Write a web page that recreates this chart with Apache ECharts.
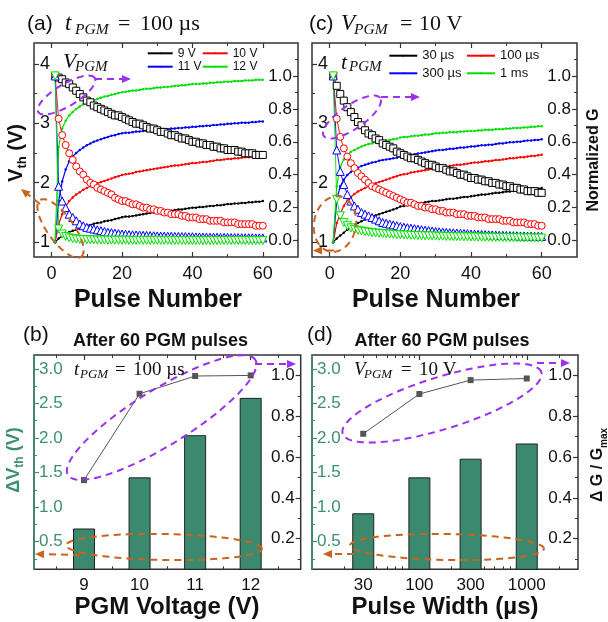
<!DOCTYPE html>
<html><head><meta charset="utf-8">
<script src="https://cdn.jsdelivr.net/npm/echarts@6/dist/echarts.min.js"></script>
<style>html,body{margin:0;padding:0;background:#fff}#c{width:608px;height:622px}</style>
</head><body><div id="c"></div><script>
// ---------- DATA ----------
const pulse = [1,2,3,4,5,6,7,8,9,10,11,12,13,14,15,16,17,18,19,20,21,22,23,24,25,26,27,28,29,30,
31,32,33,34,35,36,37,38,39,40,41,42,43,44,45,46,47,48,49,50,51,52,53,54,55,56,57,58,59,60];

// Panel (a): t_PGM = 100 us, Vth (V) vs pulse
const vthA9 = [1.00,1.06,1.10,1.14,1.17,1.19,1.21,1.23,1.26,1.28,1.29,1.31,1.32,1.33,1.35,1.36,1.37,1.39,1.40,1.42,
1.43,1.43,1.44,1.45,1.46,1.47,1.48,1.49,1.50,1.51,1.51,1.52,1.53,1.53,1.54,1.55,1.55,1.56,1.57,1.58,
1.58,1.59,1.59,1.60,1.61,1.61,1.62,1.62,1.63,1.64,1.64,1.65,1.65,1.66,1.66,1.67,1.67,1.68,1.68,1.69];
const vthA10 = [1.00,1.30,1.47,1.60,1.69,1.75,1.80,1.84,1.88,1.91,1.94,1.96,1.99,2.01,2.03,2.05,2.07,2.09,2.11,2.13,
2.14,2.15,2.16,2.18,2.19,2.20,2.21,2.22,2.23,2.24,2.25,2.26,2.27,2.28,2.29,2.29,2.30,2.31,2.32,2.33,
2.33,2.34,2.35,2.35,2.36,2.37,2.38,2.38,2.39,2.40,2.40,2.41,2.41,2.42,2.43,2.43,2.44,2.44,2.45,2.46];
const vthA11 = [1.00,1.69,2.02,2.22,2.36,2.44,2.50,2.55,2.59,2.63,2.66,2.69,2.71,2.73,2.75,2.77,2.79,2.80,2.82,2.83,
2.84,2.84,2.85,2.86,2.86,2.87,2.87,2.88,2.88,2.89,2.89,2.90,2.90,2.91,2.91,2.92,2.92,2.93,2.93,2.94,
2.94,2.95,2.95,2.96,2.96,2.97,2.97,2.98,2.98,2.99,2.99,3.00,3.00,3.01,3.01,3.01,3.02,3.02,3.03,3.03];
const vthA12 = [1.00,2.60,2.91,3.04,3.13,3.19,3.24,3.28,3.32,3.35,3.37,3.39,3.41,3.43,3.45,3.46,3.48,3.49,3.51,3.52,
3.53,3.54,3.55,3.55,3.56,3.57,3.58,3.58,3.59,3.60,3.60,3.61,3.61,3.62,3.63,3.63,3.64,3.64,3.65,3.66,
3.66,3.66,3.67,3.67,3.68,3.68,3.69,3.69,3.70,3.70,3.70,3.71,3.71,3.71,3.72,3.72,3.72,3.73,3.73,3.73];
// Panel (a): normalized G
const gA9 = [1.00,0.99,0.98,0.96,0.95,0.93,0.91,0.89,0.87,0.85,0.84,0.82,0.81,0.80,0.79,0.78,0.77,0.76,0.76,0.75,
0.74,0.73,0.72,0.71,0.71,0.70,0.69,0.68,0.68,0.67,0.66,0.66,0.65,0.64,0.64,0.63,0.62,0.62,0.61,0.60,
0.60,0.59,0.59,0.58,0.58,0.57,0.57,0.56,0.56,0.55,0.55,0.55,0.54,0.54,0.53,0.53,0.53,0.52,0.52,0.52];
const gA10 = [1.00,0.74,0.64,0.58,0.53,0.49,0.45,0.42,0.40,0.37,0.35,0.34,0.32,0.31,0.30,0.29,0.28,0.26,0.25,0.24,
0.24,0.23,0.22,0.22,0.21,0.20,0.20,0.19,0.19,0.18,0.18,0.17,0.17,0.16,0.16,0.16,0.15,0.15,0.14,0.14,
0.14,0.13,0.13,0.13,0.12,0.12,0.12,0.12,0.11,0.11,0.11,0.11,0.10,0.10,0.10,0.10,0.10,0.09,0.09,0.09];
const gA11 = [1.00,0.33,0.24,0.20,0.16,0.14,0.12,0.10,0.09,0.08,0.075,0.070,0.065,0.060,0.055,0.050,0.048,0.045,0.042,0.040,
0.038,0.036,0.035,0.034,0.033,0.032,0.031,0.030,0.029,0.028,0.027,0.027,0.026,0.026,0.025,0.025,0.024,0.024,0.023,0.023,
0.022,0.022,0.021,0.021,0.020,0.020,0.020,0.019,0.019,0.019,0.018,0.018,0.018,0.017,0.017,0.017,0.017,0.016,0.016,0.016];
const gA12 = [1.00,0.070,0.040,0.025,0.016,0.012,0.009,0.007,0.006,0.005,0.004,0.004,0.003,0.003,0.003,0.002,0.002,0.002,0.002,0.002,
0.002,0.001,0.001,0.001,0.001,0.001,0.001,0.001,0.001,0.001,0.001,0.001,0.001,0.001,0.000,0.000,0.000,0.000,0.000,0.000,
0.000,0.000,0.000,0.000,0.000,0.000,0.000,0.000,0.000,0.000,0.000,0.000,0.000,0.000,0.000,0.000,0.000,0.000,0.000,0.000];

// Panel (c): V_PGM = 10 V
const vthC30 = [1.00,1.06,1.11,1.16,1.21,1.25,1.29,1.32,1.35,1.38,1.40,1.43,1.45,1.47,1.49,1.51,1.53,1.55,1.57,1.60,
1.61,1.62,1.63,1.64,1.65,1.66,1.67,1.68,1.69,1.69,1.70,1.71,1.72,1.73,1.73,1.74,1.75,1.76,1.76,1.77,
1.78,1.79,1.80,1.80,1.81,1.82,1.83,1.83,1.84,1.85,1.85,1.86,1.86,1.87,1.88,1.88,1.89,1.89,1.90,1.91];
const vthC100 = [1.00,1.32,1.48,1.61,1.70,1.76,1.81,1.85,1.88,1.91,1.94,1.96,1.99,2.01,2.03,2.05,2.07,2.09,2.11,2.13,
2.14,2.15,2.17,2.18,2.19,2.20,2.21,2.22,2.23,2.24,2.25,2.26,2.27,2.28,2.29,2.30,2.30,2.31,2.32,2.33,
2.34,2.34,2.35,2.36,2.36,2.37,2.38,2.38,2.39,2.40,2.41,2.41,2.42,2.43,2.43,2.44,2.45,2.45,2.46,2.47];
const vthC300 = [1.00,1.71,1.94,2.05,2.13,2.18,2.22,2.25,2.28,2.30,2.32,2.34,2.35,2.37,2.38,2.39,2.40,2.41,2.42,2.44,
2.45,2.46,2.47,2.48,2.49,2.50,2.51,2.52,2.53,2.54,2.55,2.55,2.56,2.57,2.57,2.58,2.59,2.59,2.60,2.61,
2.61,2.62,2.63,2.63,2.64,2.64,2.65,2.66,2.66,2.67,2.68,2.68,2.69,2.69,2.70,2.71,2.71,2.72,2.72,2.73];
const vthC1000 = [1.00,1.94,2.27,2.39,2.47,2.52,2.55,2.58,2.61,2.63,2.65,2.66,2.68,2.69,2.70,2.71,2.72,2.73,2.74,2.76,
2.77,2.77,2.78,2.79,2.79,2.80,2.81,2.81,2.82,2.83,2.83,2.84,2.84,2.85,2.85,2.85,2.86,2.86,2.87,2.87,
2.87,2.88,2.88,2.89,2.89,2.89,2.90,2.90,2.90,2.91,2.91,2.92,2.92,2.92,2.93,2.93,2.94,2.94,2.95,2.95];
const gC30 = [1.00,0.94,0.89,0.85,0.81,0.78,0.75,0.72,0.70,0.67,0.65,0.64,0.62,0.61,0.59,0.58,0.57,0.56,0.54,0.53,
0.52,0.51,0.50,0.50,0.49,0.48,0.47,0.46,0.46,0.45,0.44,0.44,0.43,0.42,0.42,0.41,0.40,0.40,0.39,0.38,
0.38,0.37,0.37,0.36,0.36,0.35,0.35,0.34,0.34,0.33,0.33,0.32,0.32,0.31,0.31,0.30,0.30,0.30,0.29,0.29];
const gC100 = [1.00,0.74,0.63,0.56,0.51,0.47,0.44,0.41,0.39,0.37,0.35,0.33,0.32,0.31,0.30,0.29,0.28,0.27,0.26,0.25,
0.24,0.23,0.23,0.22,0.21,0.21,0.20,0.20,0.19,0.19,0.18,0.18,0.17,0.17,0.17,0.16,0.16,0.16,0.15,0.15,
0.15,0.14,0.14,0.14,0.13,0.13,0.13,0.13,0.12,0.12,0.12,0.11,0.11,0.11,0.11,0.10,0.10,0.10,0.09,0.09];
const gC300 = [1.00,0.55,0.42,0.34,0.28,0.24,0.21,0.19,0.17,0.16,0.15,0.14,0.13,0.12,0.11,0.105,0.10,0.095,0.09,0.085,
0.081,0.078,0.075,0.072,0.069,0.066,0.063,0.061,0.058,0.055,0.053,0.051,0.050,0.048,0.047,0.046,0.044,0.043,0.042,0.040,
0.039,0.038,0.037,0.036,0.035,0.034,0.033,0.032,0.032,0.031,0.030,0.030,0.029,0.028,0.028,0.027,0.027,0.026,0.026,0.025];
const gC1000 = [1.00,0.25,0.15,0.11,0.09,0.077,0.068,0.062,0.058,0.054,0.051,0.048,0.046,0.044,0.042,0.041,0.039,0.038,0.036,0.035,
0.034,0.033,0.032,0.031,0.030,0.030,0.029,0.028,0.028,0.027,0.026,0.026,0.025,0.025,0.024,0.024,0.023,0.023,0.022,0.022,
0.021,0.021,0.020,0.020,0.020,0.019,0.019,0.019,0.018,0.018,0.018,0.017,0.017,0.017,0.016,0.016,0.016,0.015,0.015,0.015];

// Panel (b): after 60 pulses vs PGM voltage
const voltages = [9,10,11,12];
const dVthVolt = [0.69,1.43,2.04,2.58];
const dGVolt = [0.487,0.91,0.997,1.0];
// Panel (d): after 60 pulses vs pulse width (us)
const widths = [30,100,300,1000];
const dVthWidth = [0.91,1.43,1.70,1.92];
const dGWidth = [0.714,0.909,0.977,0.985];

// tick labels
const pulseTicks = [0,20,40,60], pulseMinor = [10,30,50];
const vthTicks = [1,2,3,4], vthMinor = [1.5,2.5,3.5];
const gTicks = [0,0.2,0.4,0.6,0.8,1.0], gMinor = [0.1,0.3,0.5,0.7,0.9,1.1];
const dVTicks = [0.5,1.0,1.5,2.0,2.5,3.0], dVMinor = [0.25,0.75,1.25,1.75,2.25,2.75];
const dGTicks = [0.2,0.4,0.6,0.8,1.0], dGMinor = [0.1,0.3,0.5,0.7,0.9];
const voltTicks = [9,10,11,12], voltMinor = [8.5,9.5,10.5,11.5,12.5];
const widthTicks = [30,100,300,1000], widthMajor = [100,1000];
const widthMinor = [20,30,40,50,60,70,80,90,200,300,400,500,600,700,800,900,2000];

// ---------- BUILD ----------
const FONT = '"Liberation Sans", Arial, sans-serif';
const SERIF = '"Liberation Serif", "Times New Roman", serif';
const AX = '#333', TEAL = '#3d8f72', PUR = '#9b30ef', ORA = '#c8641e';
const COL = {k:'#000000', r:'#ff0000', b:'#0000ff', g:'#00e000'};
const opt = {animation:false, backgroundColor:'#fff', grid:[], xAxis:[], yAxis:[], series:[], legend:[], graphic:[]};

function addGrid(l,t,r,b){
  opt.grid.push({left:l, top:t, width:r-l, height:b-t, show:true, borderColor:AX, borderWidth:1.5, backgroundColor:'rgba(0,0,0,0)'});
  return opt.grid.length-1;
}
function addAxis(dim, g, c){
  const arr = dim==='x'?opt.xAxis:opt.yAxis;
  const tc = c.tickColor||AX;
  const base = {gridIndex:g, type:c.type||'value', min:c.min, max:c.max, position:c.pos, splitLine:{show:false}, silent:true,
    axisLine:{show:!!c.lineColor, onZero:false, lineStyle:{color:c.lineColor||AX, width:1.5}}};
  if (c.type==='log') base.logBase = 10;
  arr.push(Object.assign({}, base, {
    axisTick:{show:true, inside:true, length:5, customValues:c.major, lineStyle:{color:tc, width:1.2}},
    axisLabel:{show:!!c.labels, customValues:c.labels||c.major, inside:!!c.inside, margin:c.margin==null?6:c.margin,
      fontSize:c.fs||17, fontFamily:FONT, color:c.labelColor||'#111', formatter:c.fmt||(v=>String(v))}
  }));
  const idx = arr.length-1;
  if (c.minor) arr.push(Object.assign({}, base, {axisLine:{show:false,onZero:false},
    axisTick:{show:true, inside:true, length:3, customValues:c.minor, lineStyle:{color:tc, width:1}}, axisLabel:{show:false}}));
  return idx;
}
function addLine(name, xi, yi, ys, color, sym, size, extra){
  opt.series.push(Object.assign({type:'line', name, xAxisIndex:xi, yAxisIndex:yi, data:pulse.map((x,i)=>[x,ys[i]]),
    symbol:sym, symbolSize:size, showSymbol:true, showAllSymbol:true, color,
    lineStyle:{color, width:1.2}, itemStyle:{color},
    emphasis:{disabled:true}, silent:true, z:3}, extra||{}));
}
// open (hollow) marker with thin outline
function openM(c, rot){
  return {symbolRotate:rot||0, lineStyle:{color:c,width:0.9}, itemStyle:{color:'#ffffff', borderColor:c, borderWidth:1}, z:4};
}
const f1 = v=>v.toFixed(1);

// Panel (a)
const gA = addGrid(34,43,298,257);
const xA = addAxis('x', gA, {pos:'bottom', min:-5, max:70, labels:pulseTicks, major:pulseTicks, minor:pulseMinor, fs:18, margin:8});
addAxis('x', gA, {pos:'top', min:-5, max:70, major:pulseTicks, minor:pulseMinor});
const yAL = addAxis('y', gA, {pos:'left', min:0.75, max:4.35, labels:vthTicks, major:vthTicks, minor:vthMinor, inside:true, fs:18});
const yAR = addAxis('y', gA, {pos:'right', min:-0.1, max:1.2, labels:gTicks, major:gTicks, minor:gMinor, inside:true, fmt:f1});
addLine('9 V', xA, yAL, vthA9, COL.k, 'circle', 2.5);
addLine('10 V', xA, yAL, vthA10, COL.r, 'circle', 2.5);
addLine('11 V', xA, yAL, vthA11, COL.b, 'circle', 2.5);
addLine('12 V', xA, yAL, vthA12, COL.g, 'circle', 2.5);
addLine('G 9 V', xA, yAR, gA9, COL.k, 'rect', 7, openM(COL.k));
addLine('G 10 V', xA, yAR, gA10, COL.r, 'circle', 7, openM(COL.r));
addLine('G 11 V', xA, yAR, gA11, COL.b, 'triangle', 8, openM(COL.b));
addLine('G 12 V', xA, yAR, gA12, COL.g, 'triangle', 8, openM(COL.g, 180));

// Panel (c)
const gCc = addGrid(312,43,577,257);
const xC = addAxis('x', gCc, {pos:'bottom', min:-5, max:70, labels:pulseTicks, major:pulseTicks, minor:pulseMinor, fs:18, margin:8});
addAxis('x', gCc, {pos:'top', min:-5, max:70, major:pulseTicks, minor:pulseMinor});
const yCL = addAxis('y', gCc, {pos:'left', min:0.75, max:4.35, labels:vthTicks, major:vthTicks, minor:vthMinor, inside:true, fs:18});
const yCR = addAxis('y', gCc, {pos:'right', min:-0.1, max:1.2, labels:gTicks, major:gTicks, minor:gMinor, inside:true, fmt:f1});
addLine('30 µs', xC, yCL, vthC30, COL.k, 'circle', 2.5);
addLine('100 µs', xC, yCL, vthC100, COL.r, 'circle', 2.5);
addLine('300 µs', xC, yCL, vthC300, COL.b, 'circle', 2.5);
addLine('1 ms', xC, yCL, vthC1000, COL.g, 'circle', 2.5);
addLine('G 30', xC, yCR, gC30, COL.k, 'rect', 7, openM(COL.k));
addLine('G 100', xC, yCR, gC100, COL.r, 'circle', 7, openM(COL.r));
addLine('G 300', xC, yCR, gC300, COL.b, 'triangle', 8, openM(COL.b));
addLine('G 1000', xC, yCR, gC1000, COL.g, 'triangle', 8, openM(COL.g, 180));

// Panel (b)
const gB = addGrid(34,355,300.7,569.3);
const xB = addAxis('x', gB, {pos:'bottom', min:8.1, max:12.9, labels:voltTicks, major:voltTicks, minor:voltMinor, fs:17, margin:8});
addAxis('x', gB, {pos:'top', min:8.1, max:12.9, major:voltTicks, minor:voltMinor});
const yBL = addAxis('y', gB, {pos:'left', min:0.1, max:3.2, labels:dVTicks, major:dVTicks, minor:dVMinor, inside:true, fmt:f1, lineColor:TEAL, tickColor:TEAL, labelColor:TEAL, fs:17, margin:5});
const yBR = addAxis('y', gB, {pos:'right', min:0.05, max:1.1, labels:dGTicks, major:dGTicks, minor:dGMinor, inside:true, fmt:f1});
// Panel (d)
const gD = addGrid(312,355,578,569.3);
const xD = addAxis('x', gD, {type:'log', pos:'bottom', min:10, max:3000, labels:widthTicks, major:widthMajor, minor:widthMinor, fs:17, margin:8});
addAxis('x', gD, {type:'log', pos:'top', min:10, max:3000, major:widthMajor, minor:widthMinor});
const yDL = addAxis('y', gD, {pos:'left', min:0.1, max:3.2, labels:dVTicks, major:dVTicks, minor:dVMinor, inside:true, fmt:f1, lineColor:TEAL, tickColor:TEAL, labelColor:TEAL, fs:17, margin:5});
const yDR = addAxis('y', gD, {pos:'right', min:0.05, max:1.1, labels:dGTicks, major:dGTicks, minor:dGMinor, inside:true, fmt:f1});

function addBars(name, xi, yi, xs, ys){
  opt.series.push({type:'bar', name, xAxisIndex:xi, yAxisIndex:yi, data:xs.map((x,i)=>[x,ys[i]]), barWidth:22,
    itemStyle:{color:'#3b8a6f', borderColor:'#222', borderWidth:1}, silent:true, z:2});
}
function addDG(name, xi, yi, xs, ys){
  opt.series.push({type:'line', name, xAxisIndex:xi, yAxisIndex:yi, data:xs.map((x,i)=>[x,ys[i]]), symbol:'rect', symbolSize:6,
    color:'#555', lineStyle:{color:'#555', width:1}, itemStyle:{color:'#555'}, silent:true, z:4});
}
addBars('dVth V', xB, yBL, voltages, dVthVolt);
addDG('dG V', xB, yBR, voltages, dGVolt);
addBars('dVth W', xD, yDL, widths, dVthWidth);
addDG('dG W', xD, yDR, widths, dGWidth);

// Legends
function leg(names, left, top, fs, lh, gap, iw){
  opt.legend.push({data:names, left, top, orient:'vertical', itemWidth:iw, itemHeight:2.5, itemGap:gap, padding:0,
    selectedMode:false, textStyle:{fontSize:fs, lineHeight:lh, fontFamily:FONT, color:'#111'}});
}
leg(['9 V','11 V'], 146.7, 46.8, 12, 13, 0.4, 25);
leg(['10 V','12 V'], 201.7, 46.8, 12, 13, 0.4, 25);
leg(['30 µs','300 µs'], 388.3, 48.7, 13, 14, 3.6, 28);
leg(['100 µs','1 ms'], 466, 48.7, 13, 14, 3.6, 28);

// Texts
function T(x, y, text, o){
  o = o||{};
  const st = {text, fill:o.color||'#111', fontSize:o.fs||17, fontFamily:o.ff||FONT, fontWeight:o.fw||'normal', fontStyle:o.it?'italic':'normal',
    align:o.align||'left', textAlign:o.align||'left', verticalAlign:'middle', textVerticalAlign:'middle'};
  if (o.rich) st.rich = o.rich;
  opt.graphic.push({type:'text', x, y, rotation:o.rot||0, silent:true, z:60, style:st});
}
T(27,24,'(a)',{fs:21});
T(65,24,'t',{ff:SERIF,it:true,fs:23}); T(75,30,'PGM',{ff:SERIF,it:true,fs:15.5});
T(118,24,'=',{ff:SERIF,fs:22}); T(140,24,'100 µs',{ff:SERIF,fs:22});
T(309,24,'(c)',{fs:21});
T(341,24,'V',{ff:SERIF,it:true,fs:23}); T(354,30,'PGM',{ff:SERIF,it:true,fs:15.5});
T(400,24,'=',{ff:SERIF,fs:22}); T(419,24,'10 V',{ff:SERIF,fs:22});
T(63,62,'V',{ff:SERIF,it:true,fs:22}); T(75,67,'PGM',{ff:SERIF,it:true,fs:15});
T(341,63,'t',{ff:SERIF,it:true,fs:22}); T(349,67,'PGM',{ff:SERIF,it:true,fs:15});
T(23,335,'(b)',{fs:21}); T(307,335,'(d)',{fs:21});
T(160.5,341,'After 60 PGM pulses',{fw:'bold',fs:18,align:'center'});
T(442,341,'After 60 PGM pulses',{fw:'bold',fs:18,align:'center'});
T(74,370,'t',{ff:SERIF,it:true,fs:19}); T(80,375,'PGM',{ff:SERIF,it:true,fs:13});
T(115,370,'=',{ff:SERIF,fs:19}); T(133,370,'100 µs',{ff:SERIF,fs:19});
T(354,370,'V',{ff:SERIF,it:true,fs:19}); T(364,375,'PGM',{ff:SERIF,it:true,fs:13});
T(401,370,'=',{ff:SERIF,fs:19}); T(419,370,'10 V',{ff:SERIF,fs:19});
T(158,300,'Pulse Number',{fw:'bold',fs:25,align:'center'});
T(436,300,'Pulse Number',{fw:'bold',fs:25,align:'center'});
T(167,607,'PGM Voltage (V)',{fw:'bold',fs:24,align:'center'});
T(445,607,'Pulse Width (µs)',{fw:'bold',fs:24,align:'center'});
function rich(fs, col){
  return {a:{fontSize:fs, fontWeight:'bold', fontFamily:FONT, color:col, lineHeight:fs+6, verticalAlign:'middle'},
          b:{fontSize:Math.round(fs*0.65), fontWeight:'bold', fontFamily:FONT, color:col, lineHeight:Math.round(fs*0.65), verticalAlign:'bottom'}};
}
T(16,153,'{a|V}{b|th}{a| (V)}',{rot:Math.PI/2, align:'center', rich:rich(20,'#111')});
T(594,160,'Normalized G',{rot:Math.PI/2, align:'center', fw:'bold', fs:16});
T(14,460,'{a|ΔV}{b|th}{a| (V)}',{rot:Math.PI/2, align:'center', color:TEAL, rich:rich(18,TEAL)});
T(598,465,'{a|Δ G / G}{b|max}',{rot:Math.PI/2, align:'center', rich:rich(16,'#111')});

// Annotation ellipses and arrows
function ell(cx,cy,rx,ry,deg,color){
  const a=deg*Math.PI/180, pts=[];
  for(let k=0;k<=90;k++){const t=k/90*2*Math.PI, u=rx*Math.cos(t), v=ry*Math.sin(t);
    pts.push([cx+u*Math.cos(a)-v*Math.sin(a), cy-(u*Math.sin(a)+v*Math.cos(a))]);}
  opt.graphic.push({type:'polyline', shape:{points:pts}, style:{stroke:color, lineWidth:2, lineDash:[7,5], fill:null}, silent:true, z:40});
}
function arrow(x1,y1,x2,y2,color){
  const L=Math.hypot(x2-x1,y2-y1), ux=(x2-x1)/L, uy=(y2-y1)/L, h=9, w=4;
  const bx=x2-ux*h, by=y2-uy*h;
  opt.graphic.push({type:'line', shape:{x1,y1,x2:bx,y2:by}, style:{stroke:color, lineWidth:2, lineDash:[7,5]}, silent:true, z:40});
  opt.graphic.push({type:'polygon', shape:{points:[[x2,y2],[bx-uy*w,by+ux*w],[bx+uy*w,by-ux*w]]}, style:{fill:color}, silent:true, z:40});
}
ell(66.5,95,33,11,31,PUR); arrow(95,79,131,79,PUR);
ell(60.5,228.5,35,13,-54,ORA); arrow(40,204,21,189,ORA);
ell(352,117,34,12,34,PUR); arrow(381,97,420,97,PUR);
ell(335,224,21,28,-10,ORA); arrow(334,250.5,313,250.5,ORA);
ell(161.7,417.5,110,28,31.6,PUR); arrow(255,364,296,364,PUR);
ell(164,547,98,13,-1,ORA); arrow(80,555,35,554,ORA);
ell(442,403,104,26,17.2,PUR); arrow(537,363,570,363,PUR);
ell(447,547,97,13,-1,ORA); arrow(354,554,323,554,ORA);

const chart = echarts.init(document.getElementById('c'), null, {renderer:'canvas'});
chart.setOption(opt);
</script></body></html>
